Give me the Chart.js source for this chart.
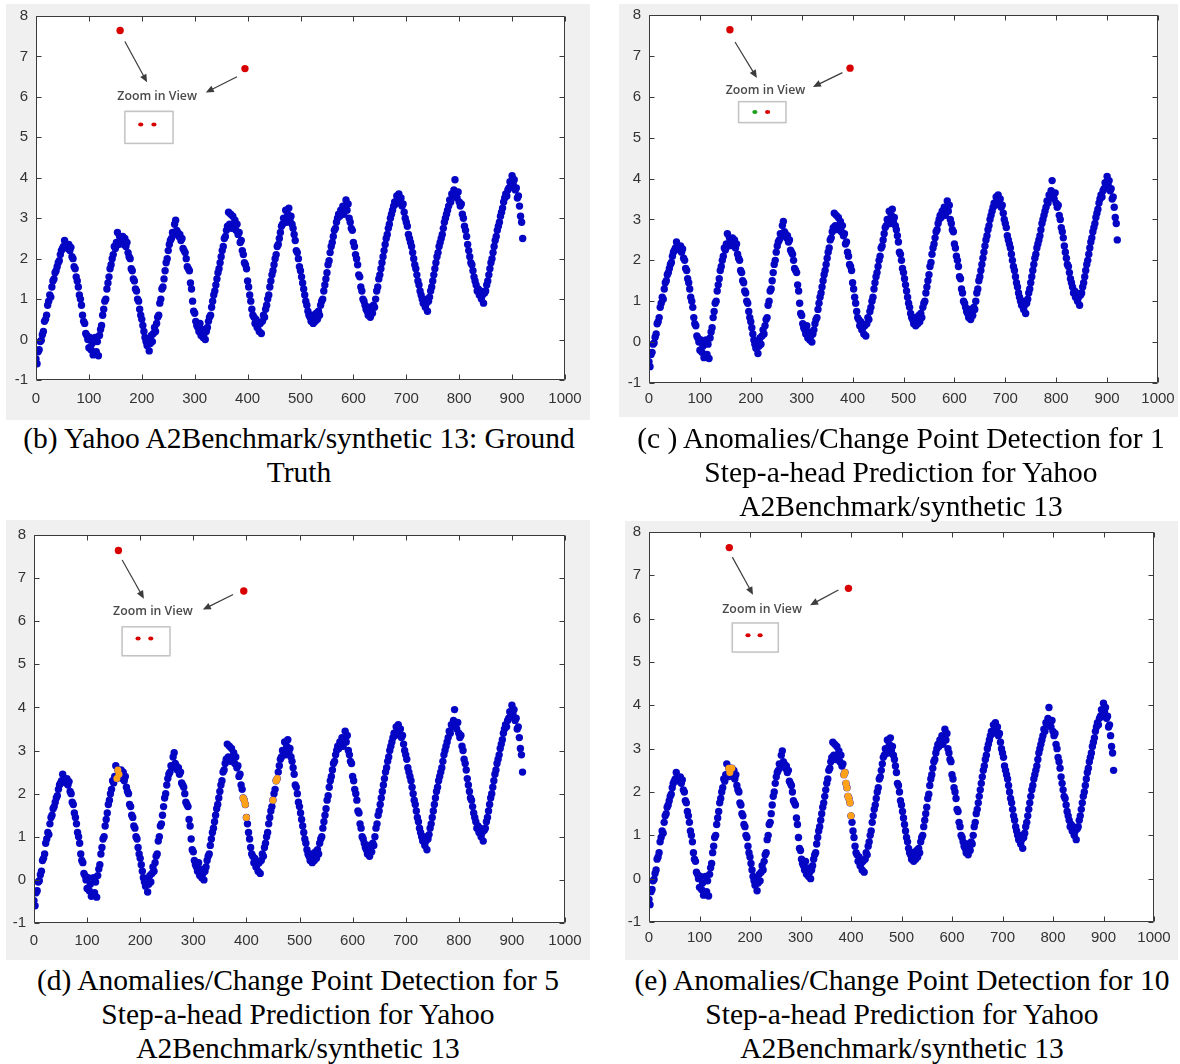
<!DOCTYPE html>
<html>
<head>
<meta charset="utf-8">
<script src="https://cdn.jsdelivr.net/npm/chart.js@4.4.1/dist/chart.umd.min.js"></script>
<style>
  body { margin: 0; width: 1180px; height: 1064px; background: #fff; position: relative; overflow: hidden; }
  .frame { position: absolute; background: #f0f0f0; }
  .cap { position: absolute; text-align: center; font-family: 'Liberation Serif', 'Times New Roman', serif;
         font-size: 29.5px; line-height: 34px; color: #000; white-space: nowrap; }
</style>
</head>
<body>
<div class="frame" style="left:6px;top:4px;width:584px;height:416px"><canvas id="chartB"></canvas></div>
<div class="frame" style="left:619px;top:4px;width:559px;height:413px"><canvas id="chartC"></canvas></div>
<div class="frame" style="left:6px;top:520px;width:584px;height:440px"><canvas id="chartD"></canvas></div>
<div class="frame" style="left:625px;top:521px;width:553px;height:439px"><canvas id="chartE"></canvas></div>

<div class="cap" style="left:0;top:421px;width:598px">(b) Yahoo A2Benchmark/synthetic 13: Ground<br>Truth</div>
<div class="cap" style="left:602px;top:421px;width:598px">(c ) Anomalies/Change Point Detection for 1<br>Step-a-head Prediction for Yahoo<br>A2Benchmark/synthetic 13</div>
<div class="cap" style="left:0;top:963px;width:596px">(d) Anomalies/Change Point Detection for 5<br>Step-a-head Prediction for Yahoo<br>A2Benchmark/synthetic 13</div>
<div class="cap" style="left:604px;top:963px;width:596px">(e) Anomalies/Change Point Detection for 10<br>Step-a-head Prediction for Yahoo<br>A2Benchmark/synthetic 13</div>

<script>
// synthetic 13: one reading every 2 time steps, x = index * xStep
const xStep = 2;
const series = [
  -0.48, -0.6, -0.3, -0.25, -0.05, -0.02, 0.12, 0.2, 0.45, 0.5, 0.6, 0.85, 0.95, 1.1, 1.05, 1.3, 1.45, 1.5, 1.65, 1.7, 1.8, 1.9, 1.95, 2.1, 2.2, 2.25, 2.3, 2.45, 2.3,
  2.3, 2.25, 2.35, 2.2, 2.28, 2.05, 2.0, 1.8, 1.75, 1.55, 1.45, 1.3, 1.1, 1.0, 0.85, 0.6, 0.45, 0.4, 0.15, 0.1, 0.0, -0.2, 0.05, -0.25, -0.1, -0.38,
  -0.35, 0.05, -0.3, -0.05, -0.4, 0.1, 0.25, 0.35, 0.6, 0.75, 0.95, 1.0, 1.25, 1.4, 1.55, 1.75, 1.85, 2.0, 2.1, 2.3, 2.25, 2.4, 2.65, 2.35, 2.55, 2.45,
  2.45, 2.55, 2.35, 2.5, 2.3, 2.4, 2.15, 2.05, 2.0, 1.75, 1.7, 1.5, 1.45, 1.25, 1.2, 1.0, 0.95, 0.75, 0.6, 0.5, 0.35, 0.2, 0.05, -0.05, -0.15, 0.0, -0.28,
  -0.1, 0.1, -0.05, 0.15, 0.3, 0.2, 0.4, 0.55, 0.6, 0.9, 1.0, 1.25, 1.3, 1.5, 1.7, 1.9, 2.0, 2.2, 2.35, 2.45, 2.5, 2.65, 2.6, 2.85, 2.95, 2.7,
  2.65, 2.55, 2.6, 2.45, 2.5, 2.25, 2.2, 2.15, 2.0, 1.8, 1.75, 1.7, 1.4, 1.25, 0.95, 0.7, 0.65, 0.45, 0.35, 0.3, 0.2, 0.4, 0.1, 0.25, 0.05, 0.15, 0.0,
  0.2, 0.3, 0.45, 0.55, 0.6, 0.8, 0.95, 1.1, 1.2, 1.35, 1.5, 1.65, 1.75, 1.9, 2.05, 2.2, 2.3, 2.5, 2.55, 2.7, 2.8, 3.15, 2.85, 3.1, 2.75, 3.05,
  2.8, 2.95, 2.7, 2.85, 2.6, 2.65, 2.4, 2.45, 2.2, 2.1, 1.9, 1.85, 1.75, 1.45, 1.3, 1.1, 0.95, 0.75, 0.6, 0.55, 0.4, 0.5, 0.3, 0.35, 0.2, 0.4, 0.15,
  0.45, 0.6, 0.55, 0.75, 0.85, 1.0, 1.1, 1.3, 1.45, 1.6, 1.7, 1.85, 2.0, 2.1, 2.3, 2.35, 2.5, 2.65, 2.8, 2.85, 3.0, 2.95, 3.2, 2.9, 3.1, 3.25,
  2.95, 3.05, 2.85, 2.75, 2.6, 2.45, 2.2, 2.15, 2.0, 1.8, 1.7, 1.55, 1.4, 1.25, 1.1, 0.95, 0.85, 0.7, 0.6, 0.55, 0.45, 0.6, 0.4, 0.55, 0.45, 0.65,
  0.5, 0.7, 0.6, 0.85, 0.95, 1.0, 1.2, 1.35, 1.5, 1.65, 1.85, 1.95, 2.15, 2.3, 2.4, 2.55, 2.7, 2.75, 2.9, 3.0, 3.1, 3.05, 3.2, 3.15, 3.3, 3.1, 3.25, 3.45,
  3.2, 3.35, 3.0, 2.9, 2.75, 2.7, 2.4, 2.3, 2.1, 2.0, 1.85, 1.6, 1.55, 1.3, 1.2, 1.0, 0.95, 0.85, 0.75, 0.7, 0.6, 0.8, 0.55, 0.75, 0.65,
  0.85, 0.8, 1.0, 1.2, 1.3, 1.5, 1.6, 1.75, 1.9, 2.05, 2.2, 2.35, 2.5, 2.6, 2.75, 2.85, 3.0, 3.1, 3.2, 3.3, 3.4, 3.35, 3.55, 3.45, 3.6, 3.4,
  3.5, 3.3, 3.35, 3.15, 3.0, 2.9, 2.8, 2.6, 2.5, 2.4, 2.3, 2.15, 2.0, 1.85, 1.75, 1.6, 1.45, 1.35, 1.2, 1.1, 1.0, 0.9, 1.0, 0.8, 0.9, 0.7,
  0.95, 1.05, 1.2, 1.3, 1.45, 1.6, 1.75, 1.9, 2.05, 2.15, 2.3, 2.4, 2.5, 2.6, 2.75, 2.9, 3.0, 3.1, 3.2, 3.3, 3.45, 3.4, 3.6, 3.55, 3.7, 3.95,
  3.6, 3.5, 3.65, 3.4, 3.3, 3.35, 3.1, 3.0, 2.8, 2.7, 2.55, 2.35, 2.2, 2.05, 1.9, 1.85, 1.7, 1.55, 1.45, 1.35, 1.2, 1.25, 1.1, 1.2, 1.0, 1.1, 0.9,
  1.15, 1.2, 1.35, 1.45, 1.6, 1.75, 1.9, 2.0, 2.15, 2.3, 2.45, 2.55, 2.7, 2.8, 2.9, 3.05, 3.15, 3.25, 3.4, 3.5, 3.6, 3.55, 3.7, 3.75, 3.9, 3.8, 4.05,
  3.85, 3.95, 3.7, 3.75, 3.5, 3.55, 3.3, 3.05, 2.9, 2.5
];

// injected anomalies (the two spikes)
const spikeX = [159, 395];
const spikeY = [7.64, 6.7];

// time steps flagged by the 5- and 10-step-ahead predictors
const flagged5 = [156, 158, 160, 394, 396, 398, 400, 450, 456, 458];
const flagged10 = [158, 160, 164, 386, 388, 390, 392, 394, 396, 398, 400];

const xTicks = [0, 100, 200, 300, 400, 500, 600, 700, 800, 900, 1000];
const yTicks = [-1, 0, 1, 2, 3, 4, 5, 6, 7, 8];

const BLUE = '#0505c4';
const RED = '#d80000';
const ORANGE = '#ffa21a';
const GREEN = '#1ea01e';

const points = series.map((v, i) => ({ x: i * xStep, y: v }));
const spikes = spikeX.map((x, i) => ({ x: x, y: spikeY[i] }));
const pick = xs => xs.map(x => ({ x: x, y: series[x / xStep] }));

// "Zoom in View" callouts, in data units of each panel
const callouts = {
  b: { arrows: [[168, 7.37, 210, 6.36], [380, 6.5, 321, 6.11]], text: [229, 6.01],
       box: [168, 5.64, 259, 4.85], dots: [[198, 5.32, RED], [223, 5.32, RED]] },
  c: { arrows: [[169, 7.34, 212, 6.46], [380, 6.59, 322, 6.24]], text: [229, 6.15],
       box: [176, 5.88, 269, 5.37], dots: [[208, 5.63, GREEN], [233, 5.63, RED]] },
  d: { arrows: [[166, 7.42, 207, 6.52], [375, 6.62, 318, 6.27]], text: [224, 6.22],
       box: [166, 5.87, 256, 5.2], dots: [[196, 5.6, RED], [220, 5.6, RED]] },
  e: { arrows: [[165, 7.42, 206, 6.55], [375, 6.66, 319, 6.31]], text: [224, 6.22],
       box: [165, 5.9, 256, 5.23], dots: [[196, 5.62, RED], [220, 5.62, RED]] }
};

function axesPlugin(callout) {
  return {
    id: 'matlabAxes',
    beforeDraw(chart) {
      const { ctx, chartArea: a } = chart;
      ctx.save();
      ctx.fillStyle = '#fff';
      ctx.fillRect(a.left, a.top, a.right - a.left, a.bottom - a.top);
      ctx.restore();
    },
    afterDraw(chart) {
      const { ctx, chartArea: a, scales: { x, y } } = chart;
      ctx.save();
      // box with inward ticks
      ctx.strokeStyle = '#3a3a3a';
      ctx.lineWidth = 1;
      ctx.beginPath();
      const L = Math.round(a.left) + 0.5, R = Math.round(a.right) - 0.5;
      const T = Math.round(a.top) + 0.5, B = Math.round(a.bottom) - 0.5;
      ctx.rect(L, T, R - L, B - T);
      xTicks.forEach(v => {
        const px = Math.round(x.getPixelForValue(v)) + 0.5;
        ctx.moveTo(px, B); ctx.lineTo(px, B - 5);
        ctx.moveTo(px, T); ctx.lineTo(px, T + 5);
      });
      yTicks.forEach(v => {
        const py = Math.round(y.getPixelForValue(v)) + 0.5;
        ctx.moveTo(L, py); ctx.lineTo(L + 5, py);
        ctx.moveTo(R, py); ctx.lineTo(R - 5, py);
      });
      ctx.stroke();

      // callout: arrows, caption, inset box
      const X = v => x.getPixelForValue(v), Y = v => y.getPixelForValue(v);
      ctx.strokeStyle = '#3c3c3c';
      ctx.fillStyle = '#3c3c3c';
      ctx.lineWidth = 1.2;
      callout.arrows.forEach(([x0, y0, x1, y1]) => {
        const sx = X(x0), sy = Y(y0), ex = X(x1), ey = Y(y1);
        const ang = Math.atan2(ey - sy, ex - sx);
        ctx.beginPath();
        ctx.moveTo(sx, sy);
        ctx.lineTo(ex - 6 * Math.cos(ang), ey - 6 * Math.sin(ang));
        ctx.stroke();
        ctx.beginPath();
        ctx.moveTo(ex, ey);
        ctx.lineTo(ex - 8 * Math.cos(ang) + 3.5 * Math.sin(ang), ey - 8 * Math.sin(ang) - 3.5 * Math.cos(ang));
        ctx.lineTo(ex - 8 * Math.cos(ang) - 3.5 * Math.sin(ang), ey - 8 * Math.sin(ang) + 3.5 * Math.cos(ang));
        ctx.closePath();
        ctx.fill();
      });
      ctx.font = "600 12.3px 'Open Sans', sans-serif";
      ctx.fillStyle = '#4a4a4a';
      ctx.textAlign = 'center';
      ctx.textBaseline = 'middle';
      ctx.fillText('Zoom in View', X(callout.text[0]), Y(callout.text[1]));

      const [bx0, by0, bx1, by1] = callout.box;
      ctx.shadowColor = 'rgba(0,0,0,0.15)';
      ctx.shadowBlur = 2;
      ctx.fillStyle = '#fff';
      ctx.fillRect(X(bx0), Y(by0), X(bx1) - X(bx0), Y(by1) - Y(by0));
      ctx.shadowColor = 'transparent';
      ctx.strokeStyle = '#c4c4c4';
      ctx.lineWidth = 1.5;
      ctx.strokeRect(X(bx0), Y(by0), X(bx1) - X(bx0), Y(by1) - Y(by0));
      callout.dots.forEach(([dx, dy, col]) => {
        ctx.beginPath();
        ctx.fillStyle = col;
        ctx.ellipse(X(dx), Y(dy), 2.6, 2, 0, 0, Math.PI * 2);
        ctx.fill();
      });
      ctx.restore();
    }
  };
}

function buildChart(id, pad, callout, flagged) {
  // lower order is painted on top: spikes, then flagged steps, then the series
  const datasets = [
    { data: points, backgroundColor: BLUE, borderColor: BLUE, pointRadius: 3.7, borderWidth: 0, order: 3 }
  ];
  if (flagged) {
    datasets.push({ data: pick(flagged), backgroundColor: ORANGE, borderColor: ORANGE, pointRadius: 3.5, borderWidth: 0, order: 2 });
  }
  datasets.push({ data: spikes, backgroundColor: RED, borderColor: RED, pointRadius: 3.7, borderWidth: 0, order: 1 });

  const tickFont = { family: "'Liberation Sans', Arial, sans-serif", size: 15 };
  // keep the plot box exactly where the padding puts it
  const noEdgePad = s => { s.paddingTop = 0; s.paddingBottom = 0; s.paddingLeft = 0; s.paddingRight = 0; };
  new Chart(document.getElementById(id), {
    type: 'scatter',
    data: { datasets },
    options: {
      responsive: true,
      maintainAspectRatio: false,
      animation: false,
      events: [],
      layout: { padding: { top: pad.top, right: pad.right, left: 0, bottom: 0 } },
      plugins: { legend: { display: false }, tooltip: { enabled: false } },
      scales: {
        x: {
          type: 'linear', min: 0, max: 1000,
          afterBuildTicks: s => { s.ticks = xTicks.map(v => ({ value: v })); },
          afterFit: s => { s.height = pad.bottom; noEdgePad(s); },
          ticks: { color: '#333', font: tickFont, padding: pad.xLab, maxRotation: 0, autoSkip: false,
                   callback: v => String(v) },
          grid: { display: false, drawTicks: false },
          border: { display: false }
        },
        y: {
          type: 'linear', min: -1, max: 8,
          afterBuildTicks: s => { s.ticks = yTicks.map(v => ({ value: v })); },
          afterFit: s => { s.width = pad.left; noEdgePad(s); },
          ticks: { color: '#333', font: tickFont, padding: 8, callback: v => String(v) },
          grid: { display: false, drawTicks: false },
          border: { display: false }
        }
      }
    },
    plugins: [axesPlugin(callout)]
  });
}

buildChart('chartB', { left: 30, top: 12, right: 25, bottom: 40, xLab: 10 }, callouts.b, null);
buildChart('chartC', { left: 30, top: 11, right: 20, bottom: 34, xLab: 7 }, callouts.c, null);
buildChart('chartD', { left: 28, top: 15, right: 25, bottom: 37, xLab: 9 }, callouts.d, flagged5);
buildChart('chartE', { left: 24, top: 11, right: 24, bottom: 38, xLab: 7 }, callouts.e, flagged10);
</script>
</body>
</html>
